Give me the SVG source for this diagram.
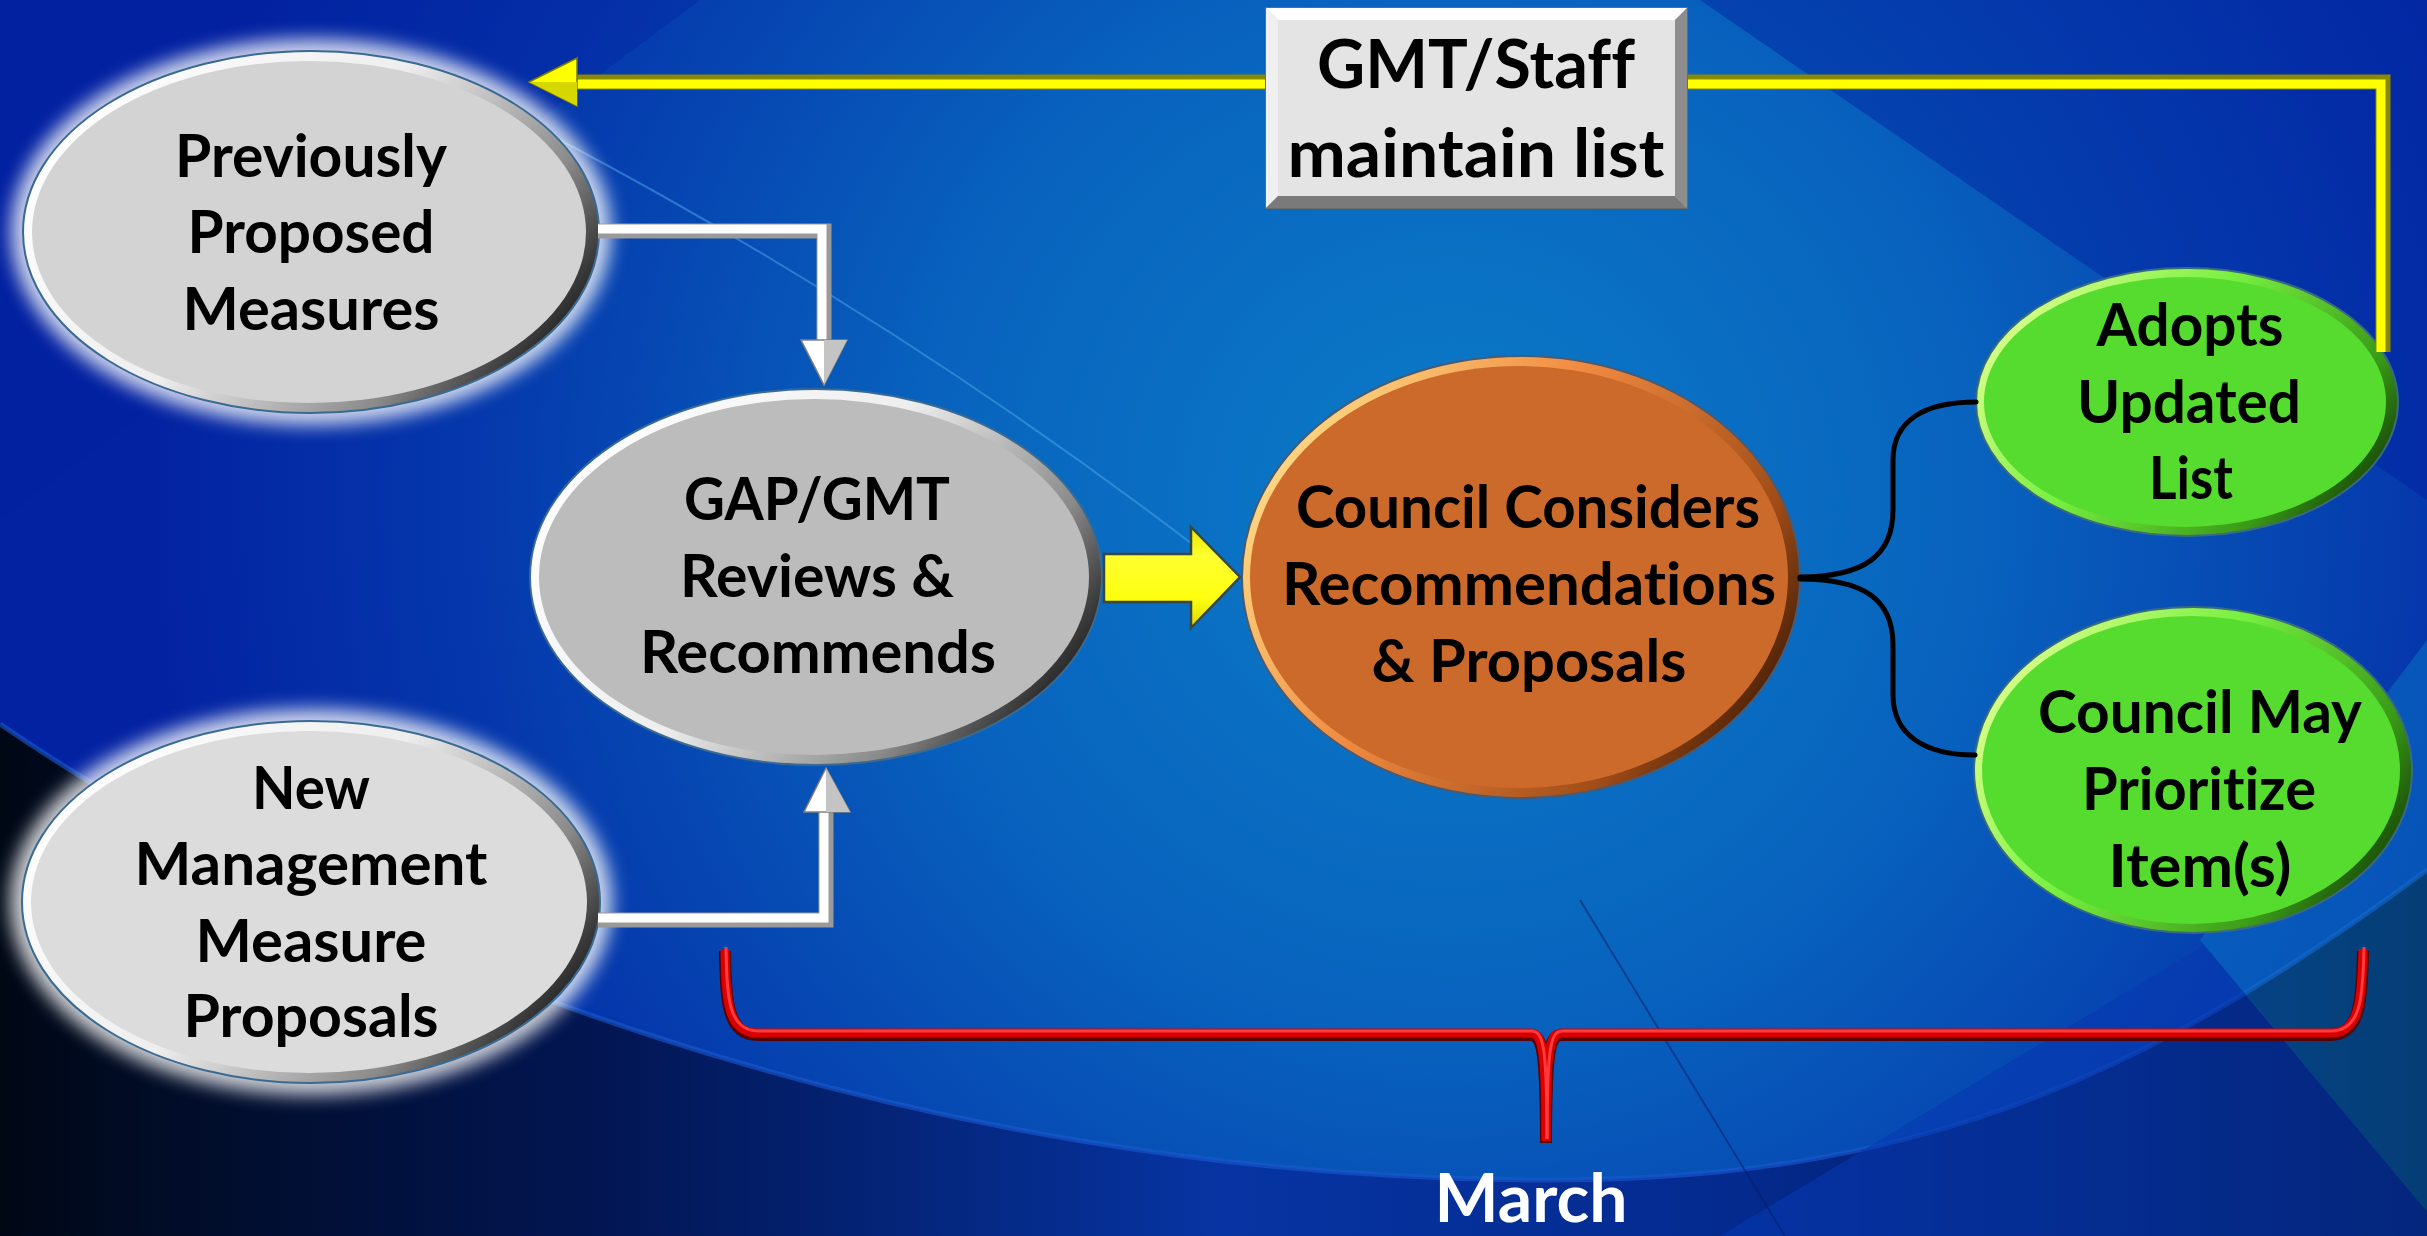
<svg xmlns="http://www.w3.org/2000/svg" width="2427" height="1236" viewBox="0 0 2427 1236">
<defs>
<style>
.t{font-family:Lato,"Open Sans","Liberation Sans",sans-serif;font-weight:700;font-size:59px;fill:#000;text-anchor:middle;font-variant-ligatures:none;font-feature-settings:"liga" 0,"clig" 0}
.big{font-size:67px}
.wt{fill:#fff}
.blk{fill:none;stroke:#000;stroke-width:5;stroke-linecap:round}
</style>
<radialGradient id="bg" cx="1450" cy="500" r="1300" gradientUnits="userSpaceOnUse">
<stop offset="0" stop-color="#0b7cc7"/>
<stop offset="0.4" stop-color="#0863be"/>
<stop offset="0.75" stop-color="#0538ac"/>
<stop offset="1" stop-color="#0322a2"/>
</radialGradient>
<linearGradient id="dark" x1="0" y1="0" x2="2427" y2="0" gradientUnits="userSpaceOnUse">
<stop offset="0" stop-color="#000816"/>
<stop offset="0.25" stop-color="#021653"/>
<stop offset="0.5" stop-color="#0634a2"/>
<stop offset="0.72" stop-color="#042a8e"/>
<stop offset="1" stop-color="#010b30"/>
</linearGradient>
<linearGradient id="rimGray" x1="0" y1="0.25" x2="1" y2="0.75">
<stop offset="0" stop-color="#ffffff"/>
<stop offset="0.45" stop-color="#eeeeee"/>
<stop offset="0.78" stop-color="#8a8a8a"/>
<stop offset="1" stop-color="#0d0d0d"/>
</linearGradient>
<linearGradient id="rimOrange" x1="0" y1="0.25" x2="1" y2="0.75">
<stop offset="0" stop-color="#ffe08a"/>
<stop offset="0.4" stop-color="#f08a40"/>
<stop offset="0.8" stop-color="#a04c18"/>
<stop offset="1" stop-color="#3a1804"/>
</linearGradient>
<linearGradient id="rimGreen" x1="0" y1="0.25" x2="1" y2="0.75">
<stop offset="0" stop-color="#e0ff90"/>
<stop offset="0.4" stop-color="#78f040"/>
<stop offset="0.8" stop-color="#3a9a18"/>
<stop offset="1" stop-color="#123c04"/>
</linearGradient>
<linearGradient id="yel" x1="0" y1="0" x2="0" y2="1">
<stop offset="0" stop-color="#e8e800"/>
<stop offset="0.3" stop-color="#ffff30"/>
<stop offset="0.7" stop-color="#ffff10"/>
<stop offset="1" stop-color="#d8d800"/>
</linearGradient>
<filter id="glow" x="-20%" y="-20%" width="140%" height="140%"><feGaussianBlur stdDeviation="9"/></filter>
</defs>

<g id="background">
<rect width="2427" height="1236" fill="url(#bg)"/>
<path d="M0 0 L700 0 L0 520 Z" fill="#0320a0" opacity="0.35"/>
<path d="M2427 0 L1700 0 L2427 500 Z" fill="#0320a0" opacity="0.45"/>
<path d="M560 140 Q900 320 1200 550" fill="none" stroke="#5ab0f0" stroke-width="2" opacity="0.45"/>
<path d="M0 724 C330 950 900 1180 1548 1180 C1900 1180 2130 1090 2427 870 L2427 1236 L0 1236 Z" fill="url(#dark)"/>
<path d="M0 724 C330 950 900 1180 1548 1180 C1900 1180 2130 1090 2427 870" fill="none" stroke="#1a5ad0" stroke-width="5" opacity="0.6"/>
<polygon points="1720,1236 2205,945 2427,1212 2427,1236" fill="#0638b0" opacity="0.6"/>
<polygon points="2200,940 2427,640 2427,1212" fill="#0b7ccc" opacity="0.45"/>
<line x1="1580" y1="900" x2="1785" y2="1236" stroke="#031c66" stroke-width="2" opacity="0.5"/>
</g>

<g id="node-previously">
<ellipse cx="311" cy="232" rx="300" ry="193" fill="#ffffff" opacity="0.8" filter="url(#glow)"/>
<ellipse cx="311" cy="232" rx="288" ry="181" fill="url(#rimGray)" stroke="#3a6a92" stroke-width="2"/>
<ellipse cx="309" cy="232" rx="277" ry="171" fill="#d3d3d3"/>
<text class="t" x="311" y="177" textLength="272" lengthAdjust="spacingAndGlyphs">Previously</text>
<text class="t" x="311" y="253" textLength="247" lengthAdjust="spacingAndGlyphs">Proposed</text>
<text class="t" x="311" y="330" textLength="257" lengthAdjust="spacingAndGlyphs">Measures</text>
</g>

<g id="node-new">
<ellipse cx="311" cy="902" rx="301" ry="193" fill="#ffffff" opacity="0.8" filter="url(#glow)"/>
<ellipse cx="311" cy="902" rx="289" ry="181" fill="url(#rimGray)" stroke="#3a6a92" stroke-width="2"/>
<ellipse cx="309" cy="902" rx="278" ry="171" fill="#dcdcdc"/>
<text class="t" x="311" y="809" textLength="118" lengthAdjust="spacingAndGlyphs">New</text>
<text class="t" x="311" y="885" textLength="353" lengthAdjust="spacingAndGlyphs">Management</text>
<text class="t" x="311" y="962" textLength="231" lengthAdjust="spacingAndGlyphs">Measure</text>
<text class="t" x="311" y="1037" textLength="255" lengthAdjust="spacingAndGlyphs">Proposals</text>
</g>

<g id="node-gap">
<ellipse cx="816" cy="577" rx="286" ry="188" fill="url(#rimGray)" stroke="#3a6a92" stroke-width="2"/>
<ellipse cx="814" cy="577" rx="275" ry="178" fill="#bcbcbc"/>
<text class="t" x="817" y="520" textLength="266" lengthAdjust="spacingAndGlyphs">GAP/GMT</text>
<text class="t" x="817" y="597" textLength="274" lengthAdjust="spacingAndGlyphs">Reviews &amp;</text>
<text class="t" x="818" y="673" textLength="356" lengthAdjust="spacingAndGlyphs">Recommends</text>
</g>

<g id="node-council">
<ellipse cx="1521" cy="577" rx="279" ry="221" fill="url(#rimOrange)" stroke="#4a5a70" stroke-width="2"/>
<ellipse cx="1519" cy="577" rx="269" ry="211" fill="#cc6a2b"/>
<text class="t" x="1528" y="528" textLength="464" lengthAdjust="spacingAndGlyphs">Council Considers</text>
<text class="t" x="1529" y="605" textLength="494" lengthAdjust="spacingAndGlyphs">Recommendations</text>
<text class="t" x="1529" y="682" textLength="315" lengthAdjust="spacingAndGlyphs">&amp; Proposals</text>
</g>

<g id="node-adopts">
<ellipse cx="2187" cy="402" rx="211" ry="134" fill="url(#rimGreen)" stroke="#3a6a80" stroke-width="2"/>
<ellipse cx="2185" cy="402" rx="201" ry="125" fill="#56dc2e"/>
<text class="t" x="2190" y="346" textLength="187" lengthAdjust="spacingAndGlyphs">Adopts</text>
<text class="t" x="2189" y="423" textLength="224" lengthAdjust="spacingAndGlyphs">Updated</text>
<text class="t" x="2191" y="499" textLength="84" lengthAdjust="spacingAndGlyphs">List</text>
</g>

<g id="node-prioritize">
<ellipse cx="2193" cy="770" rx="219" ry="163" fill="url(#rimGreen)" stroke="#3a6a80" stroke-width="2"/>
<ellipse cx="2191" cy="770" rx="209" ry="154" fill="#56dc2e"/>
<text class="t" x="2200" y="733" textLength="324" lengthAdjust="spacingAndGlyphs">Council May</text>
<text class="t" x="2199" y="810" textLength="234" lengthAdjust="spacingAndGlyphs">Prioritize</text>
<text class="t" x="2200" y="887" textLength="183" lengthAdjust="spacingAndGlyphs">Item(s)</text>
</g>

<g id="connectors">
<path d="M2383 352 V82 H575" fill="none" stroke="#8a8a00" stroke-width="15"/>
<path d="M2381 352 V84 H575" fill="none" stroke="#ffff00" stroke-width="9"/>
<polygon points="529,82 577,58 577,106" fill="#ffff00" stroke="#7a7a00" stroke-width="1.5"/>
<polygon points="529,82 577,82 577,106" fill="#d6d600"/>
<path d="M598 231 H824 V342" fill="none" stroke="#9a9a9a" stroke-width="15"/>
<path d="M598 229 H822 V342" fill="none" stroke="#ffffff" stroke-width="9"/>
<polygon points="801,340 847,340 824,385" fill="#ffffff" stroke="#808080" stroke-width="1.5"/>
<polygon points="824,340 847,340 824,385" fill="#c4c4c4"/>
<path d="M598 920 H826 V810" fill="none" stroke="#9a9a9a" stroke-width="15"/>
<path d="M598 918 H824 V812" fill="none" stroke="#ffffff" stroke-width="9"/>
<polygon points="804,812 850,812 826,768" fill="#ffffff" stroke="#808080" stroke-width="1.5"/>
<polygon points="826,812 850,812 826,768" fill="#c4c4c4"/>
<polygon points="1104,554 1191,554 1191,527 1240,577 1191,628 1191,602 1104,602" fill="url(#yel)" stroke="#3c4640" stroke-width="2.5" stroke-linejoin="miter"/>
<path class="blk" d="M1800 577 C1865 577 1893 555 1893 510 L1893 460 C1893 420 1925 402 1976 402"/>
<path class="blk" d="M1800 579 C1865 579 1893 600 1893 645 L1893 695 C1893 735 1925 755 1975 755"/>
<g id="bracket" fill="none" stroke-linecap="butt">
<g transform="translate(0,2)" stroke="#5a0000" stroke-width="12">
<path d="M725 949 C726 1000 727 1033 758 1033 L1530 1033 C1542 1033 1546 1045 1546 1141"/>
<path d="M2363 949 C2362 1000 2360 1033 2330 1033 L1562 1033 C1550 1033 1546 1045 1546 1141"/>
</g>
<g stroke="#d80000" stroke-width="9">
<path d="M725 949 C726 1000 727 1033 758 1033 L1530 1033 C1542 1033 1546 1045 1546 1141"/>
<path d="M2363 949 C2362 1000 2360 1033 2330 1033 L1562 1033 C1550 1033 1546 1045 1546 1141"/>
</g>
<g transform="translate(1,-2)" stroke="#ff3a3a" stroke-width="3">
<path d="M725 949 C726 1000 727 1033 758 1033 L1530 1033 C1542 1033 1546 1045 1546 1141"/>
<path d="M2363 949 C2362 1000 2360 1033 2330 1033 L1562 1033 C1550 1033 1546 1045 1546 1141"/>
</g>
</g>
</g>

<g id="node-gmt-staff">
<rect x="1266" y="8" width="421" height="200" fill="#c8c8c8" stroke="#6a6a6a" stroke-width="2"/>
<polygon points="1266,8 1687,8 1675,20 1278,20" fill="#ffffff"/>
<polygon points="1266,8 1278,20 1278,196 1266,208" fill="#f0f0f0"/>
<polygon points="1687,8 1687,208 1675,196 1675,20" fill="#8e8e8e"/>
<polygon points="1266,208 1278,196 1675,196 1687,208" fill="#7a7a7a"/>
<rect x="1278" y="20" width="397" height="176" fill="#e4e4e4"/>
<text class="t big" x="1476" y="88" textLength="318" lengthAdjust="spacingAndGlyphs">GMT/Staff</text>
<text class="t big" x="1476" y="177" textLength="377" lengthAdjust="spacingAndGlyphs">maintain list</text>
</g>

<g id="label-march">
<text class="t big wt" x="1531" y="1222" textLength="193" lengthAdjust="spacingAndGlyphs">March</text>
</g>
</svg>
